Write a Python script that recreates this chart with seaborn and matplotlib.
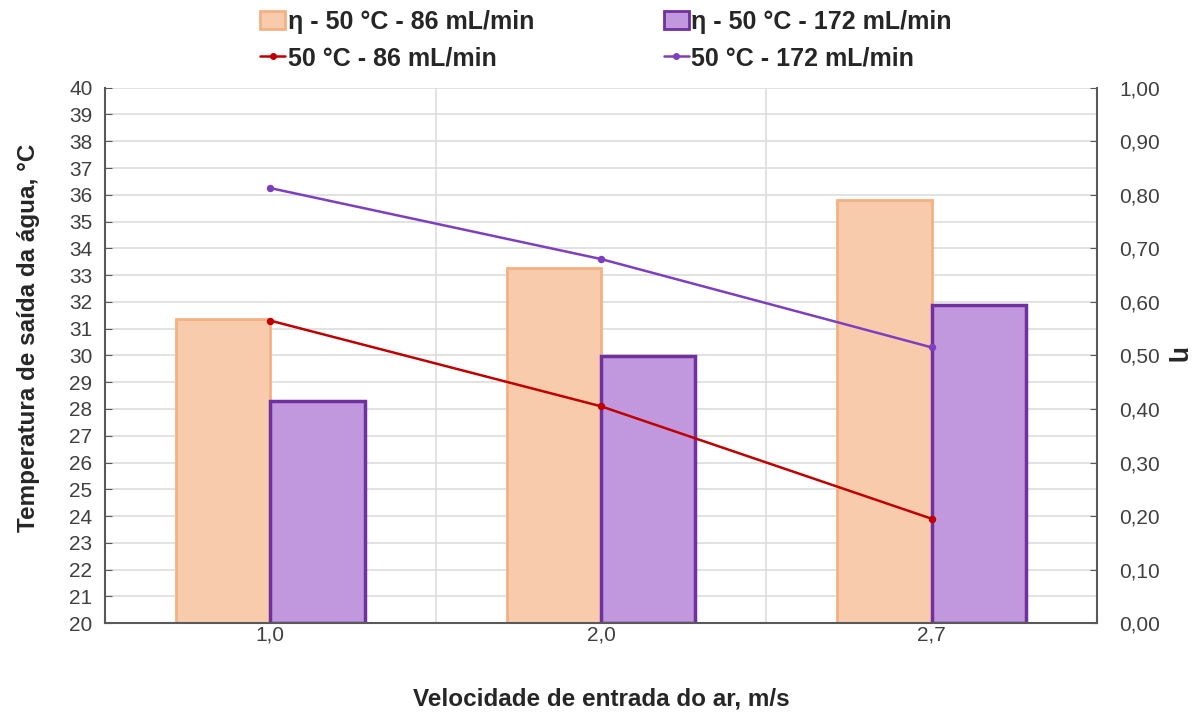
import numpy as np
import pandas as pd
import matplotlib.pyplot as plt
import seaborn as sns
from matplotlib.ticker import FuncFormatter, MultipleLocator, FixedLocator
from matplotlib.patches import Patch
from matplotlib.lines import Line2D

# categories (air inlet velocity, m/s)
velocidades = ['1,0', '2,0', '2,7']

# efficiency (right axis, bars)
eta_86 = [0.568, 0.664, 0.791]
eta_172 = [0.415, 0.499, 0.594]

# outlet water temperature (left axis, lines)
temp_86 = [31.3, 28.1, 23.9]
temp_172 = [36.25, 33.6, 30.3]

serie_bar = ['η - 50 °C - 86 mL/min', 'η - 50 °C - 172 mL/min']
serie_line = ['50 °C - 86 mL/min', '50 °C - 172 mL/min']

bar_face = ['#F8CBAD', '#C197DD']
bar_edge = ['#F4B183', '#7030A0']
line_col = ['#C00000', '#7E3FBF']

df_bar = pd.DataFrame({
    'vel': velocidades * 2,
    'eta': eta_86 + eta_172,
    'serie': [serie_bar[0]] * 3 + [serie_bar[1]] * 3,
})
df_line = pd.DataFrame({
    'vel': velocidades * 2,
    'temp': temp_86 + temp_172,
    'serie': [serie_line[0]] * 3 + [serie_line[1]] * 3,
})

sns.set_style('white')
plt.rcParams['font.family'] = ['Liberation Sans', 'DejaVu Sans']

fig = plt.figure(figsize=(12, 7.13), dpi=100)
ax = fig.add_axes([0.0875, 0.126, 0.8267, 0.751])
ax2 = ax.twinx()

# bars on the right axis (drawn below the lines)
sns.barplot(data=df_bar, x='vel', y='eta', hue='serie', palette=bar_face,
            width=0.57, ax=ax2, errorbar=None, legend=False, saturation=1)
for i, cont in enumerate(ax2.containers):
    for p in cont:
        p.set_edgecolor(bar_edge[i])
        p.set_linewidth(2.5 if i == 1 else 2)

# lines on the left axis
sns.pointplot(data=df_line, x='vel', y='temp', hue='serie', palette=line_col,
              ax=ax, errorbar=None, markers='o', dodge=False, legend=False,
              markersize=4, linewidth=1.8)

ax.set_zorder(2)
ax2.set_zorder(1)
ax.patch.set_visible(False)
ax2.patch.set_visible(True)
ax2.patch.set_facecolor('white')

ax.set_xlim(-0.5, 2.5)
ax.set_ylim(20, 40)
ax2.set_ylim(0, 1)
ax.yaxis.set_major_locator(MultipleLocator(1))
ax2.yaxis.set_major_locator(MultipleLocator(0.1))
ax2.yaxis.set_minor_locator(MultipleLocator(0.05))
ax.xaxis.set_minor_locator(FixedLocator([0.5, 1.5]))

ax2.yaxis.set_major_formatter(FuncFormatter(lambda v, p: f'{v:.2f}'.replace('.', ',')))

# grid on the lower axis so bars cover it
ax2.xaxis.set_visible(True)
ax2.set_xlabel('')
ax2.set_axisbelow(True)
ax2.grid(True, which='both', axis='y', color='#DDDDDD', lw=1.2)
ax2.grid(True, which='minor', axis='x', color='#DDDDDD', lw=1.2)
ax2.tick_params(axis='x', which='both', labelbottom=False, length=0)
ax2.tick_params(axis='y', which='minor', length=0)
ax.grid(False)

ax.tick_params(axis='x', which='major', length=0, labelsize=15, colors='#404040', pad=2)
ax.tick_params(axis='x', which='minor', direction='in', length=5, color='#595959')
ax.tick_params(axis='y', direction='in', length=5, labelsize=15, colors='#404040',
               color='#595959', pad=9)
ax2.tick_params(axis='y', which='major', direction='in', length=5, labelsize=15,
                colors='#404040', color='#595959', pad=16)

for a in (ax, ax2):
    for s in a.spines.values():
        s.set_visible(False)
ax.spines['left'].set_visible(True)
ax.spines['bottom'].set_visible(True)
ax2.spines['right'].set_visible(True)
for s in (ax.spines['left'], ax.spines['bottom'], ax2.spines['right']):
    s.set_color('#595959')
    s.set_linewidth(1.5)

ax.set_xlabel('Velocidade de entrada do ar, m/s', fontsize=17.5, fontweight='bold', labelpad=31)
ax.set_ylabel('Temperatura de saída da água, °C', fontsize=17.5, fontweight='bold')
ax.yaxis.set_label_coords(-0.066, 0.533)
ax2.set_ylabel('η', fontsize=19, fontweight='bold', rotation=-90, labelpad=22)

handles = [
    Patch(facecolor=bar_face[0], edgecolor=bar_edge[0], lw=2),
    Line2D([], [], color=line_col[0], marker='o', markersize=4, lw=1.8),
    Patch(facecolor=bar_face[1], edgecolor=bar_edge[1], lw=2),
    Line2D([], [], color=line_col[1], marker='o', markersize=4, lw=1.8),
]
labels = [serie_bar[0], serie_line[0], serie_bar[1], serie_line[1]]
fig.legend(handles, labels, ncol=2, loc='upper center', bbox_to_anchor=(0.505, 1.018),
           frameon=False, prop={'weight': 'bold', 'size': 18}, handlelength=1.0,
           handletextpad=0.1, columnspacing=5.2, labelspacing=0.5)

fig.savefig('out.png', dpi=100)
